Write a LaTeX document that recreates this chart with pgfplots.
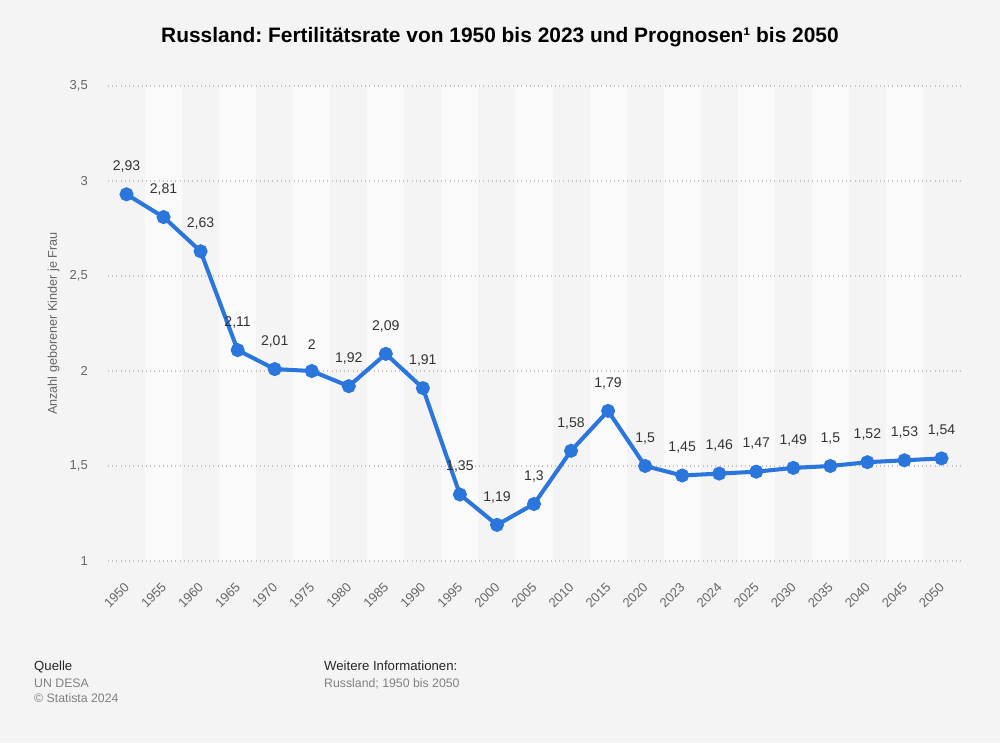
\documentclass[border=0pt]{standalone}
\usepackage{fontspec}
\setmainfont{Liberation Sans}
\usepackage{pgfplots}
\pgfplotsset{compat=1.18}
\definecolor{bgc}{HTML}{F4F4F4}
\definecolor{bandc}{HTML}{FAFAFA}
\definecolor{linec}{HTML}{2A76DD}
\definecolor{gridc}{HTML}{C4C4C4}
\definecolor{tickc}{HTML}{666666}
\definecolor{labc}{HTML}{333333}
\pagecolor{bgc}
\frenchspacing
\begin{document}
\begin{tikzpicture}[x=1cm,y=1cm]
\path (0,0) rectangle (20,14.86);
\node[font=\bfseries\fontsize{11.9}{13}\selectfont, text=black] at (10,14.12)
  {Russland: Fertilitätsrate von 1950 bis 2023 und Prognosen¹ bis 2050};
\begin{axis}[
    at={(2.16cm,3.64cm)}, anchor=south west,
    scale only axis,
    width=17.04cm, height=9.5cm,
    set layers,
    xmin=-0.5, xmax=22.5,
    ymin=1, ymax=3.5,
    clip=false,
    axis line style={draw=none},
    tick style={draw=none},
    xtick={0,...,22},
    xticklabels={1950,1955,1960,1965,1970,1975,1980,1985,1990,1995,2000,2005,2010,2015,2020,2023,2024,2025,2030,2035,2040,2045,2050},
    xticklabel style={xshift=-1.7pt, yshift=-6.8pt, rotate=45, anchor=north east, font=\fontsize{7.4}{8}\selectfont, text=tickc},
    ytick={1,1.5,2,2.5,3,3.5},
    yticklabel style={font=\fontsize{7.4}{8}\selectfont, text=tickc, anchor=east, xshift=-8pt},
    /pgf/number format/use comma,
    /pgf/number format/assume math mode=true,
    ymajorgrids,
    major grid style={draw=gridc, dotted, line width=0.6pt},
    ylabel={Anzahl geborener Kinder je Frau},
    ylabel style={font=\fontsize{7.2}{8}\selectfont, text=tickc, at={(rel axis cs:0,0.5)}, yshift=24pt},
    nodes near coords,
    every node near coord/.append style={font=\fontsize{8}{9}\selectfont, text=labc, yshift=8pt},
]
\begin{pgfonlayer}{axis background}
\pgfplotsinvokeforeach{1,3,5,7,9,11,13,15,17,19,21}{
  \fill[bandc] (axis cs:{#1-0.5},1) rectangle (axis cs:{#1+0.5},3.5);
}
\end{pgfonlayer}
\addplot[color=linec, line width=2.3pt, mark=*, mark size=2.8pt, mark options={fill=linec, draw=linec}] coordinates {
    (0,2.93) (1,2.81) (2,2.63) (3,2.11) (4,2.01) (5,2) (6,1.92) (7,2.09)
    (8,1.91) (9,1.35) (10,1.19) (11,1.3) (12,1.58) (13,1.79) (14,1.5)
    (15,1.45) (16,1.46) (17,1.47) (18,1.49) (19,1.5) (20,1.52) (21,1.53) (22,1.54)
};
\end{axis}
\node[anchor=base west, font=\fontsize{7.5}{8}\selectfont, text=black!85] at (0.56,1.46) {Quelle};
\node[anchor=base west, font=\fontsize{7}{8}\selectfont, text=gray] at (0.56,1.12) {UN DESA};
\node[anchor=base west, font=\fontsize{7}{8}\selectfont, text=gray] at (0.56,0.82) {© Statista 2024};
\node[anchor=base west, font=\fontsize{7.5}{8}\selectfont, text=black!85] at (6.36,1.46) {Weitere Informationen:};
\node[anchor=base west, font=\fontsize{7}{8}\selectfont, text=gray] at (6.36,1.12) {Russland; 1950 bis 2050};
\end{tikzpicture}
\end{document}
